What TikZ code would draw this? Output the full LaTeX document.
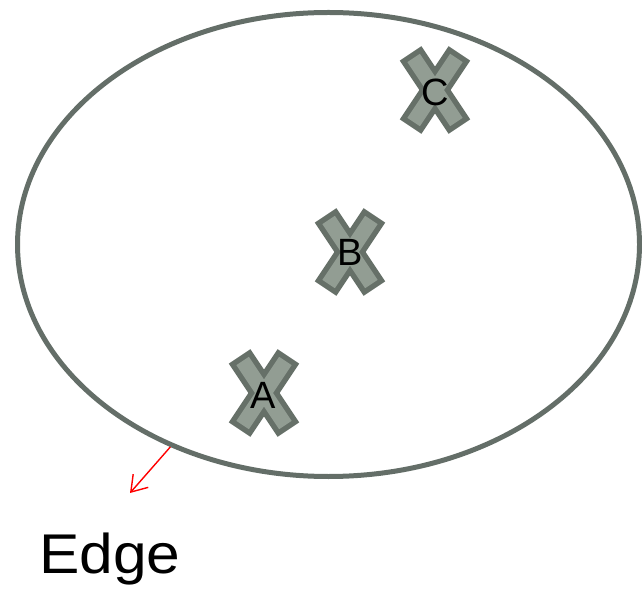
\documentclass[tikz,border=0pt]{standalone}
\usepackage{fontspec}
\setmainfont{Liberation Sans}
\newfontfamily\edgefont[FakeStretch=1.08]{Liberation Sans}
\usetikzlibrary{shapes.geometric,arrows.meta}
\definecolor{rim}{RGB}{100,110,104}
\definecolor{xfill}{RGB}{146,157,147}
\definecolor{xline}{RGB}{102,112,104}
\tikzset{
  region/.style={ellipse, draw=rim, line width=5pt, inner sep=0pt, minimum width=622pt, minimum height=464pt},
  xlabel/.style={font=\fontsize{38}{38}\selectfont, inner sep=0pt, text=black},
  xmark/.pic={
    \foreach \r in {33.7,-33.7}
      \draw[rotate=\r, draw=xline, line width=11pt, line join=miter]
        (-7.5,-38.5) rectangle (7.5,38.5);
    \foreach \r in {33.7,-33.7}
      \fill[rotate=\r, xfill] (-7.5,-38.5) rectangle (7.5,38.5);
  },
  edgearrow/.style={draw=red, line width=1.4pt, -{Straight Barb[length=15pt,width=20pt]}}
}
\begin{document}
\begin{tikzpicture}[x=1pt,y=-1pt]
\useasboundingbox (0,0) rectangle (642,593);
\node[region] (reg) at (328.5,244.5) {};
\pic at (435,90) {xmark};
\pic at (350,252) {xmark};
\pic at (264,393) {xmark};
\node[xlabel] (c) at (435,92) {C};
\node[xlabel] (b) at (350,252) {B};
\node[xlabel] (a) at (263,395) {A};
\coordinate (tip) at (130,493);
\draw[edgearrow] (reg.232) -- (tip);
\node[font=\edgefont\fontsize{56}{56}\selectfont, anchor=base west, inner sep=0pt] (edge) at (39,573) {Edge};
\end{tikzpicture}
\end{document}
